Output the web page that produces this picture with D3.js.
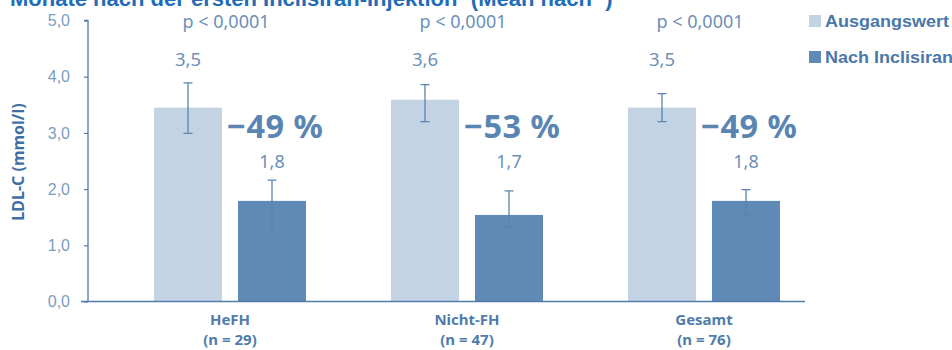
<!DOCTYPE html>
<html lang="de">
<head>
<meta charset="utf-8">
<script src="https://cdn.jsdelivr.net/npm/d3@7"></script>
<style>
  body { margin: 0; background: #fff; }
  svg { display: block; font-family: "Noto Sans", sans-serif; }
</style>
</head>
<body>
<svg width="952" height="350"></svg>
<script>
// data
var groups = ['HeFH', 'Nicht-FH', 'Gesamt'];
var groupN = ['(n = 29)', '(n = 47)', '(n = 76)'];
var series = ['Ausgangswert', 'Nach Inclisiran'];
var baseline = [3.45, 3.59, 3.45];
var after = [1.79, 1.54, 1.79];
var baselineErr = [[2.99, 3.89], [3.2, 3.86], [3.2, 3.7]];
var afterErr = [[1.23, 2.16], [1.32, 1.97], [1.54, 1.99]];
var baseLabels = ['3,5', '3,6', '3,5'];
var afterLabels = ['1,8', '1,7', '1,8'];
var changeLabels = ['\u221249 %', '\u221253 %', '\u221249 %'];
var pLabels = ['p < 0,0001', 'p < 0,0001', 'p < 0,0001'];
var yTicks = [0, 1, 2, 3, 4, 5];

var colors = { light: '#c3d3e3', dark: '#5f8ab5', axis: '#4f7cab', text: '#6b90b9', bold: '#5a85b2' };

var svg = d3.select('svg');

var y = d3.scaleLinear().domain([0, 5]).range([301.5, 20.5]);
var x = d3.scaleBand().domain(groups).range([111.5, 822.5]);
var xs = d3.scaleBand().domain(series).range([0, 152]).paddingInner(0.1905);

function center(g) { return x(g) + x.bandwidth() / 2; }

// title, cut off at the top like in the source picture
svg.append('text')
   .attr('x', 10).attr('y', 6)
   .attr('font-family', 'Liberation Sans, Arial, sans-serif')
   .attr('font-weight', 'bold').attr('font-size', 22)
   .attr('fill', '#1f6db8')
   .text('Monate nach der ersten Inclisiran-Injektion\u00b9 (Mean nach \u00b2)');

// y axis
var yAxis = d3.axisLeft(y).tickValues(yTicks).tickSize(4).tickPadding(14)
              .tickFormat(function(d){ return d3.format('.1f')(d).replace('.', ','); });
var ga = svg.append('g').attr('transform', 'translate(88,0)').call(yAxis);
ga.select('.domain').attr('stroke', colors.axis).attr('stroke-width', 1.3)
  .attr('d', 'M-4,' + y(5) + 'H0V' + y(0));
ga.selectAll('.tick line').attr('stroke', colors.axis).attr('stroke-width', 1.2);
ga.selectAll('.tick text').attr('fill', '#7b9dc3').attr('font-size', 16);

svg.append('text')
   .attr('transform', 'translate(24,' + 162 + ') rotate(-90)')
   .attr('text-anchor', 'middle')
   .attr('font-weight', 'bold').attr('font-size', 16)
   .attr('fill', '#3f6fa3')
   .text('LDL-C (mmol/l)');

// bars
var g = svg.append('g');
groups.forEach(function(grp, i){
  var x0 = center(grp) - 76;
  var vals = [baseline[i], after[i]];
  var errs = [baselineErr[i], afterErr[i]];
  series.forEach(function(s, j){
    g.append('rect')
     .attr('x', x0 + xs(s)).attr('width', xs.bandwidth())
     .attr('y', y(vals[j])).attr('height', y(0) - y(vals[j]))
     .attr('fill', j === 0 ? colors.light : colors.dark);
    var cx = x0 + xs(s) + xs.bandwidth() / 2;
    var e = errs[j];
    g.append('path')
     .attr('d', 'M' + (cx - 4.5) + ',' + y(e[1]) + 'H' + (cx + 4.5) +
                'M' + cx + ',' + y(e[1]) + 'V' + y(e[0]) +
                'M' + (cx - 4.5) + ',' + y(e[0]) + 'H' + (cx + 4.5))
     .attr('stroke', '#5a84b0').attr('stroke-width', 1.3).attr('fill', 'none');
  });

  var lightC = x0 + xs(series[0]) + xs.bandwidth() / 2;
  var darkC = x0 + xs(series[1]) + xs.bandwidth() / 2;

  g.append('text').attr('x', lightC).attr('y', 66)
   .attr('text-anchor', 'middle').attr('font-size', 18.5).attr('fill', colors.text)
   .text(baseLabels[i]);
  g.append('text').attr('x', darkC).attr('y', 168)
   .attr('text-anchor', 'middle').attr('font-size', 18).attr('fill', colors.text)
   .text(afterLabels[i]);
  g.append('text').attr('x', center(grp) - 3).attr('y', 138)
   .attr('font-size', 32.5).attr('font-weight', 'bold').attr('fill', colors.bold)
   .attr('letter-spacing', 0.5)
   .text(changeLabels[i]);
  g.append('text').attr('x', center(grp) - 4).attr('y', 28)
   .attr('text-anchor', 'middle').attr('font-size', 18).attr('fill', colors.text)
   .text(pLabels[i]);

  g.append('text').attr('x', center(grp)).attr('y', 325)
   .attr('text-anchor', 'middle').attr('font-size', 15).attr('font-weight', 'bold')
   .attr('fill', '#4f7cab').text(grp);
  g.append('text').attr('x', center(grp)).attr('y', 345)
   .attr('text-anchor', 'middle').attr('font-size', 15).attr('font-weight', 'bold')
   .attr('fill', '#4f7cab').text(groupN[i]);
});

// x axis line
svg.append('line')
   .attr('x1', 81).attr('x2', 805).attr('y1', y(0)).attr('y2', y(0))
   .attr('stroke', colors.axis).attr('stroke-width', 1.5);

// legend (text is a bit stretched in the source)
var leg = svg.append('g');
var legTexts = [];
series.forEach(function(s, j){
  leg.append('rect').attr('x', 809).attr('y', 15 + j * 36).attr('width', 12).attr('height', 12)
     .attr('fill', j === 0 ? colors.light : colors.dark);
  legTexts.push(leg.append('text').attr('x', 0).attr('y', 0)
     .attr('font-family', 'Liberation Sans, Arial, sans-serif')
     .attr('font-weight', 'bold').attr('font-size', 17)
     .attr('fill', '#4a78aa').text(s));
});
var sx = 124 / legTexts[0].node().getComputedTextLength();
legTexts.forEach(function(t, j){
  t.attr('transform', 'translate(825,' + (27 + j * 36) + ') scale(' + sx + ',1)');
});
</script>
</body>
</html>
